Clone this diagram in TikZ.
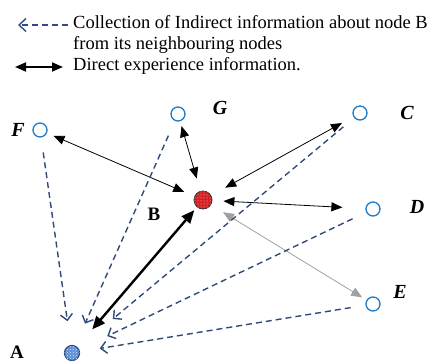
\documentclass[tikz,border=0pt]{standalone}
\usepackage{fontspec}
\setmainfont{Liberation Serif}
\usetikzlibrary{arrows.meta, positioning, patterns}
\definecolor{PeerBlue}{HTML}{1F7BC8}
\definecolor{DashBlue}{HTML}{2F4A7A}
\definecolor{LegBlue}{HTML}{2E4C8C}
\definecolor{BRed}{HTML}{D42020}
\definecolor{AFill}{HTML}{5A8ED6}
\definecolor{EdgeGray}{HTML}{A0A0A0}

\begin{document}
\begin{tikzpicture}[x=1pt, y=-1pt,
    font=\fontsize{18.5}{21}\selectfont,
    peer/.style={circle, draw=PeerBlue, line width=1.3pt, fill=white, minimum size=14pt, inner sep=0pt},
    tag/.style={font=\fontsize{20}{20}\selectfont\bfseries\itshape},
    uptag/.style={font=\fontsize{19}{19}\selectfont\bfseries},
    direct/.style={{Triangle[length=11pt,width=9pt]}-{Triangle[length=11pt,width=9pt]}, line width=0.8pt},
    indirect/.style={-{Straight Barb[length=6pt,width=12pt]}, DashBlue, line width=1.4pt, dash pattern=on 6pt off 4pt}]
    \useasboundingbox (0,0) rectangle (430,363);

    % Legend
    \coordinate (leg1a) at (18,25);
    \coordinate (leg1b) at (68,25);
    \draw[indirect, LegBlue, -{Straight Barb[length=7pt,width=13pt]}] (leg1b) -- (leg1a);
    \node[anchor=base west, align=left, inner sep=0pt] (legtext) at (73,71)
        {Collection of Indirect information about node B\\from its neighbouring nodes\\Direct experience information.};
    \coordinate (leg2a) at (15,67);
    \coordinate (leg2b) at (63,67);
    \draw[{Triangle[length=11pt,width=9pt]}-{Triangle[length=11pt,width=9pt]}, line width=1.8pt] (leg2a) -- (leg2b);

    % Neighbour nodes
    \node[peer] (F) at (40,130) {};
    \node[peer] (G) at (178,114) {};
    \node[peer] (C) at (360,113) {};
    \node[peer] (D) at (373,209) {};
    \node[peer] (E) at (373,304) {};
    \node[tag] (Flab) at (18,130) {F};
    \node[tag] (Glab) at (220,108) {G};
    \node[tag] (Clab) at (407,113) {C};
    \node[tag] (Dlab) at (417,207) {D};
    \node[tag] (Elab) at (400,292) {E};

    % Node B (evaluated) and node A (evaluator)
    \node[circle, draw=black!80, line width=0.8pt, fill=BRed, minimum size=18pt, inner sep=0pt,
          postaction={pattern=dots, pattern color=white!85!red}] (B) at (203,200) {};
    \node[circle, draw=DashBlue, line width=1.2pt, fill=AFill, minimum size=15pt, inner sep=0pt,
          postaction={pattern=crosshatch dots, pattern color=white!80!AFill}] (A) at (72,353) {};
    \node[uptag] (Blab) at (154,214) {B};
    \node[uptag] (Alab) at (17,352) {A};

    % Direct experience
    \draw[direct, shorten <=7pt, shorten >=11pt] (F) -- (B);
    \draw[direct, shorten <=5pt, shorten >=13pt] (G) -- (B);
    \draw[direct, shorten <=13pt, shorten >=16pt] (C) -- (B);
    \draw[direct, shorten <=11pt, shorten >=23pt] (B) -- (D);
    \draw[direct, draw=EdgeGray, shorten <=14pt, shorten >=5pt] (B) -- (E);
    \draw[{Triangle[length=13pt,width=11pt]}-{Triangle[length=13pt,width=11pt]}, line width=2.4pt,
          shorten <=23pt, shorten >=4pt] (A) -- (B);

    % Indirect information collected by A
    \draw[indirect, shorten <=15pt, shorten >=24pt] (F) -- (A);
    \draw[indirect, shorten <=16pt, shorten >=24pt] (G) -- (A);
    \draw[indirect, shorten <=14pt, shorten >=45pt] (C) -- (A);
    \draw[indirect, shorten <=15pt, shorten >=31pt] (D) -- (A);
    \draw[indirect, shorten <=15pt, shorten >=20pt] (E) -- (A);
\end{tikzpicture}
\end{document}
